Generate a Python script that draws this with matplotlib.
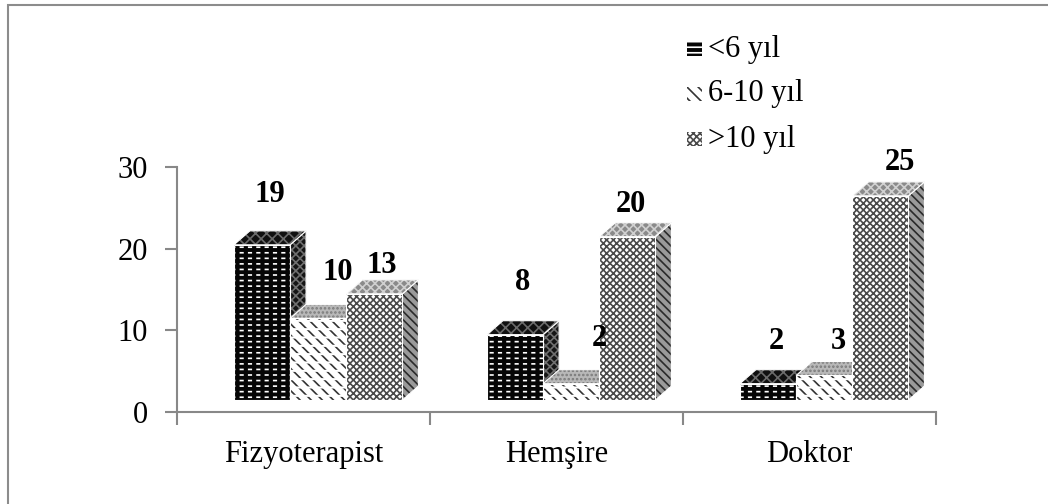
import matplotlib
matplotlib.use('Agg')
import matplotlib.pyplot as plt
from matplotlib.patches import Polygon, Rectangle

# work experience by profession
professions = ['Fizyoterapist', 'Hemşire', 'Doktor']
series_names = ['<6 yıl', '6-10 yıl', '>10 yıl']
under_6 = [19, 8, 2]
from_6_to_10 = [10, 2, 3]
over_10 = [13, 20, 25]

# label nudges (pixels, x right / y up) so the numbers sit where they read best
label_nudge = [[(0, 36), (12, 32), (-1, 14)],
               [(0, 38), (20, 31), (-4, 18)],
               [(0, 28), (6, 20), (12, 19)]]

plt.rcParams['font.family'] = ['Liberation Serif', 'DejaVu Serif']
plt.rcParams['hatch.linewidth'] = 1.2

fig = plt.figure(figsize=(10.48, 5.04), dpi=100)
ax = fig.add_axes([177 / 1048, 92 / 504, 759 / 1048, 245 / 504])
ax.set_xlim(0, 3)
ax.set_ylim(0, 30)

# fake 3d look: floor lift, depth offsets
floor = 1.47
dx = 16 / 253
dy = 1.71
bar_w = 0.222
first_x = 0.225

# face styles: (face, hatch colour, hatch, overlay colour, overlay hatch, overlay hatch width)
styles = [
    {'front': ('#050505', 'white', '---', '#050505', '||', 3.0),
     'top': ('#101010', '#6a6a6a', 'xxx', None, None, 0),
     'side': ('#151515', '#707070', 'xxxx', None, None, 0)},
    {'front': ('white', '#333333', '\\\\\\', 'white', '--', 1.5),
     'top': ('#b8b8b8', '#7a7a7a', '....', None, None, 0),
     'side': ('#bbbbbb', '#666666', '////', None, None, 0)},
    {'front': ('white', '#4a4a4a', 'xxxxx', None, None, 0),
     'top': ('#8a8a8a', '#d0d0d0', 'xxxx', None, None, 0),
     'side': ('#9a9a9a', '#2a2a2a', '\\\\\\\\', None, None, 0)},
]


def face(pts, style, z):
    fc, hc, hatch, oc, ohatch, ow = style
    ax.add_patch(Polygon(pts, closed=True, facecolor=fc, edgecolor=hc,
                         hatch=hatch, linewidth=0, zorder=z, clip_on=False))
    if ohatch:
        with plt.rc_context({'hatch.linewidth': ow}):
            over = Polygon(pts, closed=True, facecolor='none', edgecolor=oc,
                           hatch=ohatch, linewidth=0, zorder=z + 0.01, clip_on=False)
        if hasattr(over, 'set_hatch_linewidth'):
            over.set_hatch_linewidth(ow)
        ax.add_patch(over)
    # thin white outline like the 3d renderer draws
    ax.add_patch(Polygon(pts, closed=True, facecolor='none', edgecolor='white',
                         linewidth=0.8, zorder=z + 0.02, clip_on=False))


all_values = [under_6, from_6_to_10, over_10]
for g in range(len(professions)):
    for s in range(3):
        v = all_values[s][g]
        x0 = g + first_x + s * bar_w
        x1 = x0 + bar_w
        y0 = floor
        y1 = floor + v
        z = 3 + g * 3 + s
        st = styles[s]
        face([(x1, y0), (x1 + dx, y0 + dy), (x1 + dx, y1 + dy), (x1, y1)], st['side'], z)
        face([(x0, y1), (x1, y1), (x1 + dx, y1 + dy), (x0 + dx, y1 + dy)], st['top'], z + 0.1)
        face([(x0, y0), (x1, y0), (x1, y1), (x0, y1)], st['front'], z + 0.2)
        nx, ny = label_nudge[g][s]
        ax.annotate(str(v), xy=((x0 + x1) / 2 + dx / 2, y1 + dy),
                    xytext=(nx * 0.72, ny * 0.72), textcoords='offset points',
                    ha='center', va='center', fontsize=22, fontweight='bold',
                    zorder=30, annotation_clip=False)

# axes styling
for side in ['top', 'right']:
    ax.spines[side].set_visible(False)
for side in ['left', 'bottom']:
    ax.spines[side].set_color('#888888')
    ax.spines[side].set_linewidth(1.5)
ax.set_yticks([0, 10, 20, 30])
ax.tick_params(axis='y', direction='out', length=9, width=1.5, color='#888888',
               labelsize=22, pad=12)
ax.set_xticks([0, 1, 2, 3])
ax.set_xticklabels([])
ax.tick_params(axis='x', which='major', direction='out', length=9, width=1.5, color='#888888')
ax.set_xticks([0.5, 1.5, 2.5], minor=True)
ax.set_xticklabels(professions, minor=True)
ax.tick_params(axis='x', which='minor', length=0, labelsize=22, pad=20)
ax.patch.set_visible(False)

# legend drawn by hand in the top right
leg_y = [455, 410, 365]
for s in range(3):
    fc, hc, hatch = styles[s]['front'][:3]
    yb = (leg_y[s] - 7) / 504
    fig.add_artist(Rectangle((687 / 1048, yb), 15 / 1048, 14 / 504, transform=fig.transFigure,
                             facecolor=fc, edgecolor=hc, hatch=hatch, linewidth=0))
    fig.text(708 / 1048, leg_y[s] / 504, series_names[s], fontsize=22, va='center', ha='left')

# chart border
fig.add_artist(Rectangle((8 / 1048, -0.5), 2, 0.5 + 499 / 504, transform=fig.transFigure,
                         facecolor='none', edgecolor='#8c8c8c', linewidth=1.5))

plt.savefig('out.png', dpi=100)
